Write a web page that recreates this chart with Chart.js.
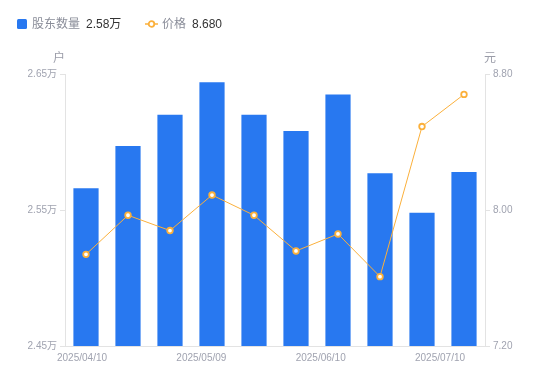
<!DOCTYPE html>
<html><head><meta charset="utf-8">
<script src="https://cdn.jsdelivr.net/npm/chart.js@4"></script>
<style>
html,body{margin:0;padding:0;background:#fff;width:550px;height:381px;overflow:hidden;font-family:"Liberation Sans","Noto Sans CJK SC",sans-serif;}
#wrap{position:relative;width:550px;height:381px;}
canvas{position:absolute;left:0;top:0;}
.lg{position:absolute;top:16px;font-size:12px;line-height:16px;white-space:nowrap;}
.lg .n{color:#8a8d99;}
.lg .v{color:#333;margin-left:6px;}
.unit{position:absolute;font-size:12px;color:#9a9ca8;}
</style></head>
<body><div id="wrap">
<canvas id="c" width="550" height="381"></canvas>
<div class="lg" style="left:17px;"><span style="display:inline-block;width:10px;height:10px;background:#2878F0;border-radius:1.5px;vertical-align:-1px;margin-right:5px;"></span><span class="n" id="n1"></span><span class="v" id="v1"></span></div>
<div class="lg" style="left:145px;"><svg width="13" height="10" style="vertical-align:-1px;margin-right:4px;"><line x1="0" y1="5" x2="13" y2="5" stroke="#FBB03B" stroke-width="1.5"/><circle cx="6.5" cy="5" r="2.8" fill="#fff" stroke="#FBB03B" stroke-width="1.8"/></svg><span class="n" id="n2"></span><span class="v" id="v2"></span></div>
<div class="unit" style="left:53px;top:48px;">户</div>
<div class="unit" style="left:484px;top:48px;">元</div>
</div>
<script>
const categories = ['2025/04/10','2025/04/21','2025/04/30','2025/05/09','2025/05/20','2025/05/30','2025/06/10','2025/06/20','2025/06/30','2025/07/10'];
const shareholders = [2.566, 2.597, 2.620, 2.644, 2.620, 2.608, 2.635, 2.577, 2.548, 2.578];
const price = [7.739, 7.969, 7.879, 8.088, 7.969, 7.759, 7.859, 7.608, 8.491, 8.680];
const xTickLabels = ['2025/04/10','2025/05/09','2025/06/10','2025/07/10'];
const leftTicks = [2.45, 2.55, 2.65];
const rightTicks = [7.20, 8.00, 8.80];
const seriesNames = ['股东数量','价格'];

document.getElementById('n1').textContent = seriesNames[0];
document.getElementById('v1').textContent = shareholders[shareholders.length-1].toFixed(2) + '万';
document.getElementById('n2').textContent = seriesNames[1];
document.getElementById('v2').textContent = price[price.length-1].toFixed(3);

const FONT = '"Liberation Sans","Noto Sans CJK SC",sans-serif';
const LBL = '#a0a3b0';
const AX = '#e3e3e3';
const ORANGE = '#FBB03B';

new Chart(document.getElementById('c'), {
  data: {
    labels: categories,
    datasets: [
      {type:'line', label:seriesNames[1], data:price, yAxisID:'y1', xAxisID:'x',
       borderColor:ORANGE, borderWidth:1, backgroundColor:'#fff',
       pointRadius:2.8, pointBorderWidth:1.8, pointBackgroundColor:'#fff', pointBorderColor:ORANGE,
       tension:0, order:0},
      {type:'bar', label:seriesNames[0], data:shareholders, yAxisID:'y', xAxisID:'x',
       backgroundColor:'#2878F0', categoryPercentage:1, barPercentage:0.6, order:1}
    ]
  },
  options: {
    responsive:false, animation:false,
    layout:{padding:{top:74,bottom:0,left:0,right:0}},
    plugins:{legend:{display:false}, tooltip:{enabled:false}},
    scales:{
      x:{type:'category', display:false, offset:true},
      xl:{type:'linear', position:'bottom', min:-0.1425, max:3.377,
        afterBuildTicks:s=>{s.ticks = xTickLabels.map((_,i)=>({value:i}));},
        afterFit:s=>{s.height=35;},
        grid:{display:true, drawOnChartArea:false, drawTicks:false, color:AX},
        border:{display:true,color:AX},
        ticks:{padding:6, color:LBL, font:{family:FONT,size:10}, maxRotation:0, autoSkip:false,
          callback:v=>xTickLabels[v]}},
      y:{type:'linear', position:'left', min:leftTicks[0], max:leftTicks[leftTicks.length-1],
        afterBuildTicks:s=>{s.ticks = leftTicks.map(v=>({value:v}));},
        afterFit:s=>{s.width=65;},
        grid:{drawOnChartArea:false, drawTicks:true, tickLength:5, color:AX},
        border:{display:true,color:AX},
        ticks:{padding:3, color:LBL, font:{family:FONT,size:10}, callback:v=>v.toFixed(2)+'万'}},
      y1:{type:'linear', position:'right', min:rightTicks[0], max:rightTicks[rightTicks.length-1],
        afterBuildTicks:s=>{s.ticks = rightTicks.map(v=>({value:v}));},
        afterFit:s=>{s.width=65;},
        grid:{drawOnChartArea:false, drawTicks:true, tickLength:5, color:AX},
        border:{display:true,color:AX},
        ticks:{padding:3, color:LBL, font:{family:FONT,size:10}, callback:v=>v.toFixed(2)}}
    }
  }
});
</script>
</body></html>
